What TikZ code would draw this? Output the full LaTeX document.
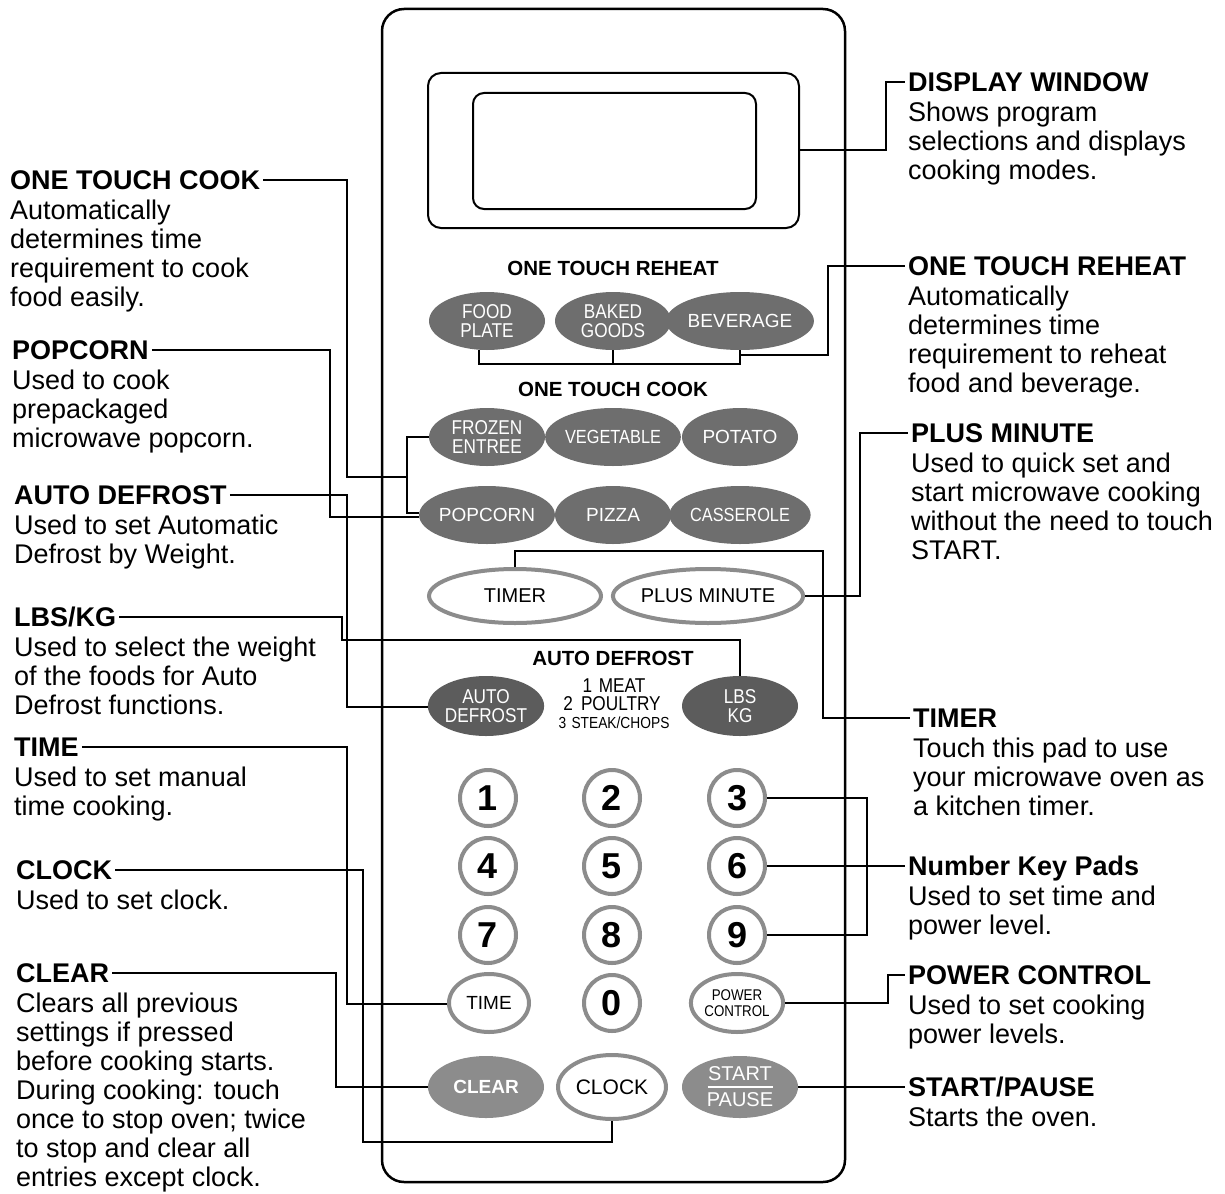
\documentclass[tikz,border=0pt]{standalone}
\usepackage{fontspec}
\setmainfont{Liberation Sans}
\newfontfamily\narrowsans[FakeStretch=0.86]{Liberation Sans}
\usetikzlibrary{shapes.geometric}
\definecolor{keygray}{HTML}{6E6E6E}
\definecolor{keydark}{HTML}{5C5C5C}
\definecolor{keylight}{HTML}{8C8C8C}
\definecolor{rimgray}{HTML}{8C8C8C}
\begin{document}
\begin{tikzpicture}[x=1pt,y=-1pt,
  conn/.style={line width=2pt},
  head/.style={font=\bfseries\fontsize{27}{29}\selectfont, inner xsep=3pt, inner ysep=0pt, text height=19.3pt, text depth=0pt, anchor=west},
  body/.style={font=\fontsize{27}{29}\selectfont, inner sep=0pt, align=left, anchor=north west},
  panelhead/.style={font=\bfseries\fontsize{20.5}{22}\selectfont, inner sep=0pt, text height=14.7pt, text depth=0pt},
  fillkey/.style={ellipse, fill=#1, inner sep=0pt, minimum width=116pt, minimum height=58pt, text=white, font=\fontsize{18.5}{19}\selectfont, align=center},
  fillkey/.default=keygray,
  twoline/.style={font=\narrowsans\fontsize{20}{19.5}\selectfont},
  outkey/.style={ellipse, draw=rimgray, line width=4pt, fill=white, inner sep=0pt, font=\fontsize{20}{20}\selectfont, align=center},
  numkey/.style={circle, draw=rimgray, line width=4pt, fill=white, inner sep=0pt, minimum size=56pt, font=\bfseries\fontsize{36}{36}\selectfont}
]
\useasboundingbox (0,0) rectangle (1225,1193);
\fill[white] (0,0) rectangle (1225,1193);

% ---------- panel ----------
\node[draw, line width=2.5pt, rounded corners=22pt, minimum width=463pt, minimum height=1173pt, inner sep=0pt] (panel) at (613.5,595.5) {};
\node[draw, line width=2pt, rounded corners=13pt, minimum width=371pt, minimum height=155pt, inner sep=0pt] (dispout) at (613.5,150.5) {};
\node[draw, line width=2pt, rounded corners=11pt, minimum width=283pt, minimum height=116pt, inner sep=0pt] (dispin) at (614.5,151) {};

% ---------- panel headings ----------
\node[panelhead] (phReheat) at (613,268) {ONE TOUCH REHEAT};
\node[panelhead] (phCook) at (613,389) {ONE TOUCH COOK};
\node[panelhead] (phDefrost) at (613,658) {AUTO DEFROST};

% ---------- keys ----------
\node[fillkey, twoline] (fp) at (487,321) {FOOD\\PLATE};
\node[fillkey, twoline] (bg) at (613,321) {BAKED\\GOODS};
\node[fillkey, font=\fontsize{19}{19}\selectfont] (bev) at (740,321) {BEVERAGE};
\node[fillkey, twoline] (fe) at (487,437) {FROZEN\\ENTREE};
\node[fillkey, font=\narrowsans\fontsize{19}{19}\selectfont] (veg) at (613,437) {VEGETABLE};
\node[fillkey, font=\fontsize{19}{19}\selectfont] (pot) at (740,437) {POTATO};
\node[fillkey, font=\fontsize{19}{19}\selectfont] (pop) at (487,515) {POPCORN};
\node[fillkey, font=\fontsize{19}{19}\selectfont] (piz) at (613,515) {PIZZA};
\node[fillkey, font=\narrowsans\fontsize{19}{19}\selectfont] (cas) at (740,515) {CASSEROLE};

\node[outkey, minimum width=172pt, minimum height=54pt] (tmr) at (515,596) {TIMER};
\node[outkey, minimum width=176pt, minimum height=54pt] (pm) at (708,596) {PLUS MINUTE};

\node[fillkey=keydark, twoline, minimum height=60pt] (adk) at (486,706) {AUTO\\DEFROST};
\node[fillkey=keydark, twoline, minimum height=60pt] (lbs) at (740,706) {LBS\\KG};
\node[inner sep=0pt, font=\narrowsans\fontsize{20}{20}\selectfont] (adl1) at (614,686) {1\,\,MEAT};
\node[inner sep=0pt, font=\narrowsans\fontsize{20}{20}\selectfont] (adl2) at (612,704) {2\, POULTRY};
\node[inner sep=0pt, font=\narrowsans\fontsize{16}{16}\selectfont] (adl3) at (614,723) {3\,\,STEAK/CHOPS};

\node[numkey] (k1) at (488,798) {1};
\node[numkey] (k2) at (612,798) {2};
\node[numkey] (k3) at (737,798) {3};
\node[numkey] (k4) at (488,866) {4};
\node[numkey] (k5) at (612,866) {5};
\node[numkey] (k6) at (737,866) {6};
\node[numkey] (k7) at (488,935) {7};
\node[numkey] (k8) at (612,935) {8};
\node[numkey] (k9) at (737,935) {9};
\node[outkey, minimum width=80pt, minimum height=58pt, font=\fontsize{19}{19}\selectfont] (tk) at (489,1003) {TIME};
\node[numkey] (k0) at (612,1003) {0};
\node[outkey, minimum width=80pt, minimum height=58pt, font=\narrowsans\fontsize{15.5}{16}\selectfont] (pc) at (737,1003) {POWER\\CONTROL};

\node[fillkey=keylight, minimum height=62pt, font=\bfseries\fontsize{19}{20}\selectfont] (clr) at (486,1087) {CLEAR};
\node[outkey, minimum width=108pt, minimum height=64pt, font=\fontsize{21}{22}\selectfont] (clk) at (612,1087) {CLOCK};
\node[fillkey=keylight, minimum height=62pt, font=\fontsize{20}{26}\selectfont] (sp) at (740,1087) {START\\PAUSE};
\draw[white, line width=2pt] (sp.center) +(-32.5,0) -- +(32.5,0);

% ---------- left labels ----------
\node[head] (hOTC) at (7,180) {ONE TOUCH COOK};
\node[body] (bOTC) at (10,199.5) {Automatically\\determines time\\requirement to cook\\food easily.};
\node[head] (hPOP) at (9,350) {POPCORN};
\node[body] (bPOP) at (12,369.5) {Used to cook\\prepackaged\\microwave popcorn.};
\node[head] (hAD) at (11,495) {AUTO DEFROST};
\node[body] (bAD) at (14,514.5) {Used to set Automatic\\Defrost by Weight.};
\node[head] (hLBS) at (11,617) {LBS/KG};
\node[body] (bLBS) at (14,636.5) {Used to select the weight\\of the foods for Auto\\Defrost functions.};
\node[head] (hTIME) at (11,747) {TIME};
\node[body] (bTIME) at (14,766.5) {Used to set manual\\time cooking.};
\node[head] (hCLK) at (13,870) {CLOCK};
\node[body] (bCLK) at (16,889.5) {Used to set clock.};
\node[head] (hCLR) at (13,973) {CLEAR};
\node[body] (bCLR) at (16,992.5) {Clears all previous\\settings if pressed\\before cooking starts.\\During cooking: touch\\once to stop oven; twice\\to stop and clear all\\entries except clock.};

% ---------- right labels ----------
\node[head] (hDW) at (905,82) {DISPLAY WINDOW};
\node[body] (bDW) at (908,101.5) {Shows program\\selections and displays\\cooking modes.};
\node[head] (hOTR) at (905,266) {ONE TOUCH REHEAT};
\node[body] (bOTR) at (908,285.5) {Automatically\\determines time\\requirement to reheat\\food and beverage.};
\node[head] (hPM) at (908,433) {PLUS MINUTE};
\node[body] (bPM) at (911,452.5) {Used to quick set and\\start microwave cooking\\without the need to touch\\START.};
\node[head] (hTMR) at (910,718) {TIMER};
\node[body] (bTMR) at (913,737.5) {Touch this pad to use\\your microwave oven as\\a kitchen timer.};
\node[head] (hNUM) at (905,866) {Number Key Pads};
\node[body] (bNUM) at (908,885.5) {Used to set time and\\power level.};
\node[head] (hPC) at (905,975) {POWER CONTROL};
\node[body] (bPC) at (908,994.5) {Used to set cooking\\power levels.};
\node[head] (hSP) at (905,1087) {START/PAUSE};
\node[body] (bSP) at (908,1106.5) {Starts the oven.};

% ---------- connectors ----------
\draw[conn] (dispout.east) -| (886,82) -- (hDW.west);
\draw[conn] (fp.south -| 479,0) -- (479,364) -| (bev.south);
\draw[conn] (bg.south) -- (bg.south |- 0,364);
\draw[conn] (bev.south |- 0,355) -| (828,266) -- (hOTR.west);
\draw[conn] (hOTC.east) -| (347,477) -- (407,477);
\draw[conn] (fe.west) -| (407,513) -- (pop.west |- 0,513);
\draw[conn] (hPOP.east) -| (330,517) -- (pop.west |- 0,517);
\draw[conn] (hAD.east) -| (347,707) -- (adk.west |- 0,707);
\draw[conn] (hLBS.east) -| (342,640) -| (lbs.north);
\draw[conn] (tmr.north) |- (823,551) |- (hTMR.west);
\draw[conn] (pm.east) -| (860,433) -- (hPM.west);
\draw[conn] (k3.east) -| (867,935) -- (k9.east);
\draw[conn] (k6.east) -- (hNUM.west);
\draw[conn] (pc.east) -| (888,975) -- (hPC.west);
\draw[conn] (sp.east) -- (hSP.west);
\draw[conn] (hTIME.east) -| (347,1004) -- (tk.west |- 0,1004);
\draw[conn] (hCLK.east) -| (363,1142) -| (clk.south);
\draw[conn] (hCLR.east) -| (336,1087) -- (clr.west);
\end{tikzpicture}
\end{document}
